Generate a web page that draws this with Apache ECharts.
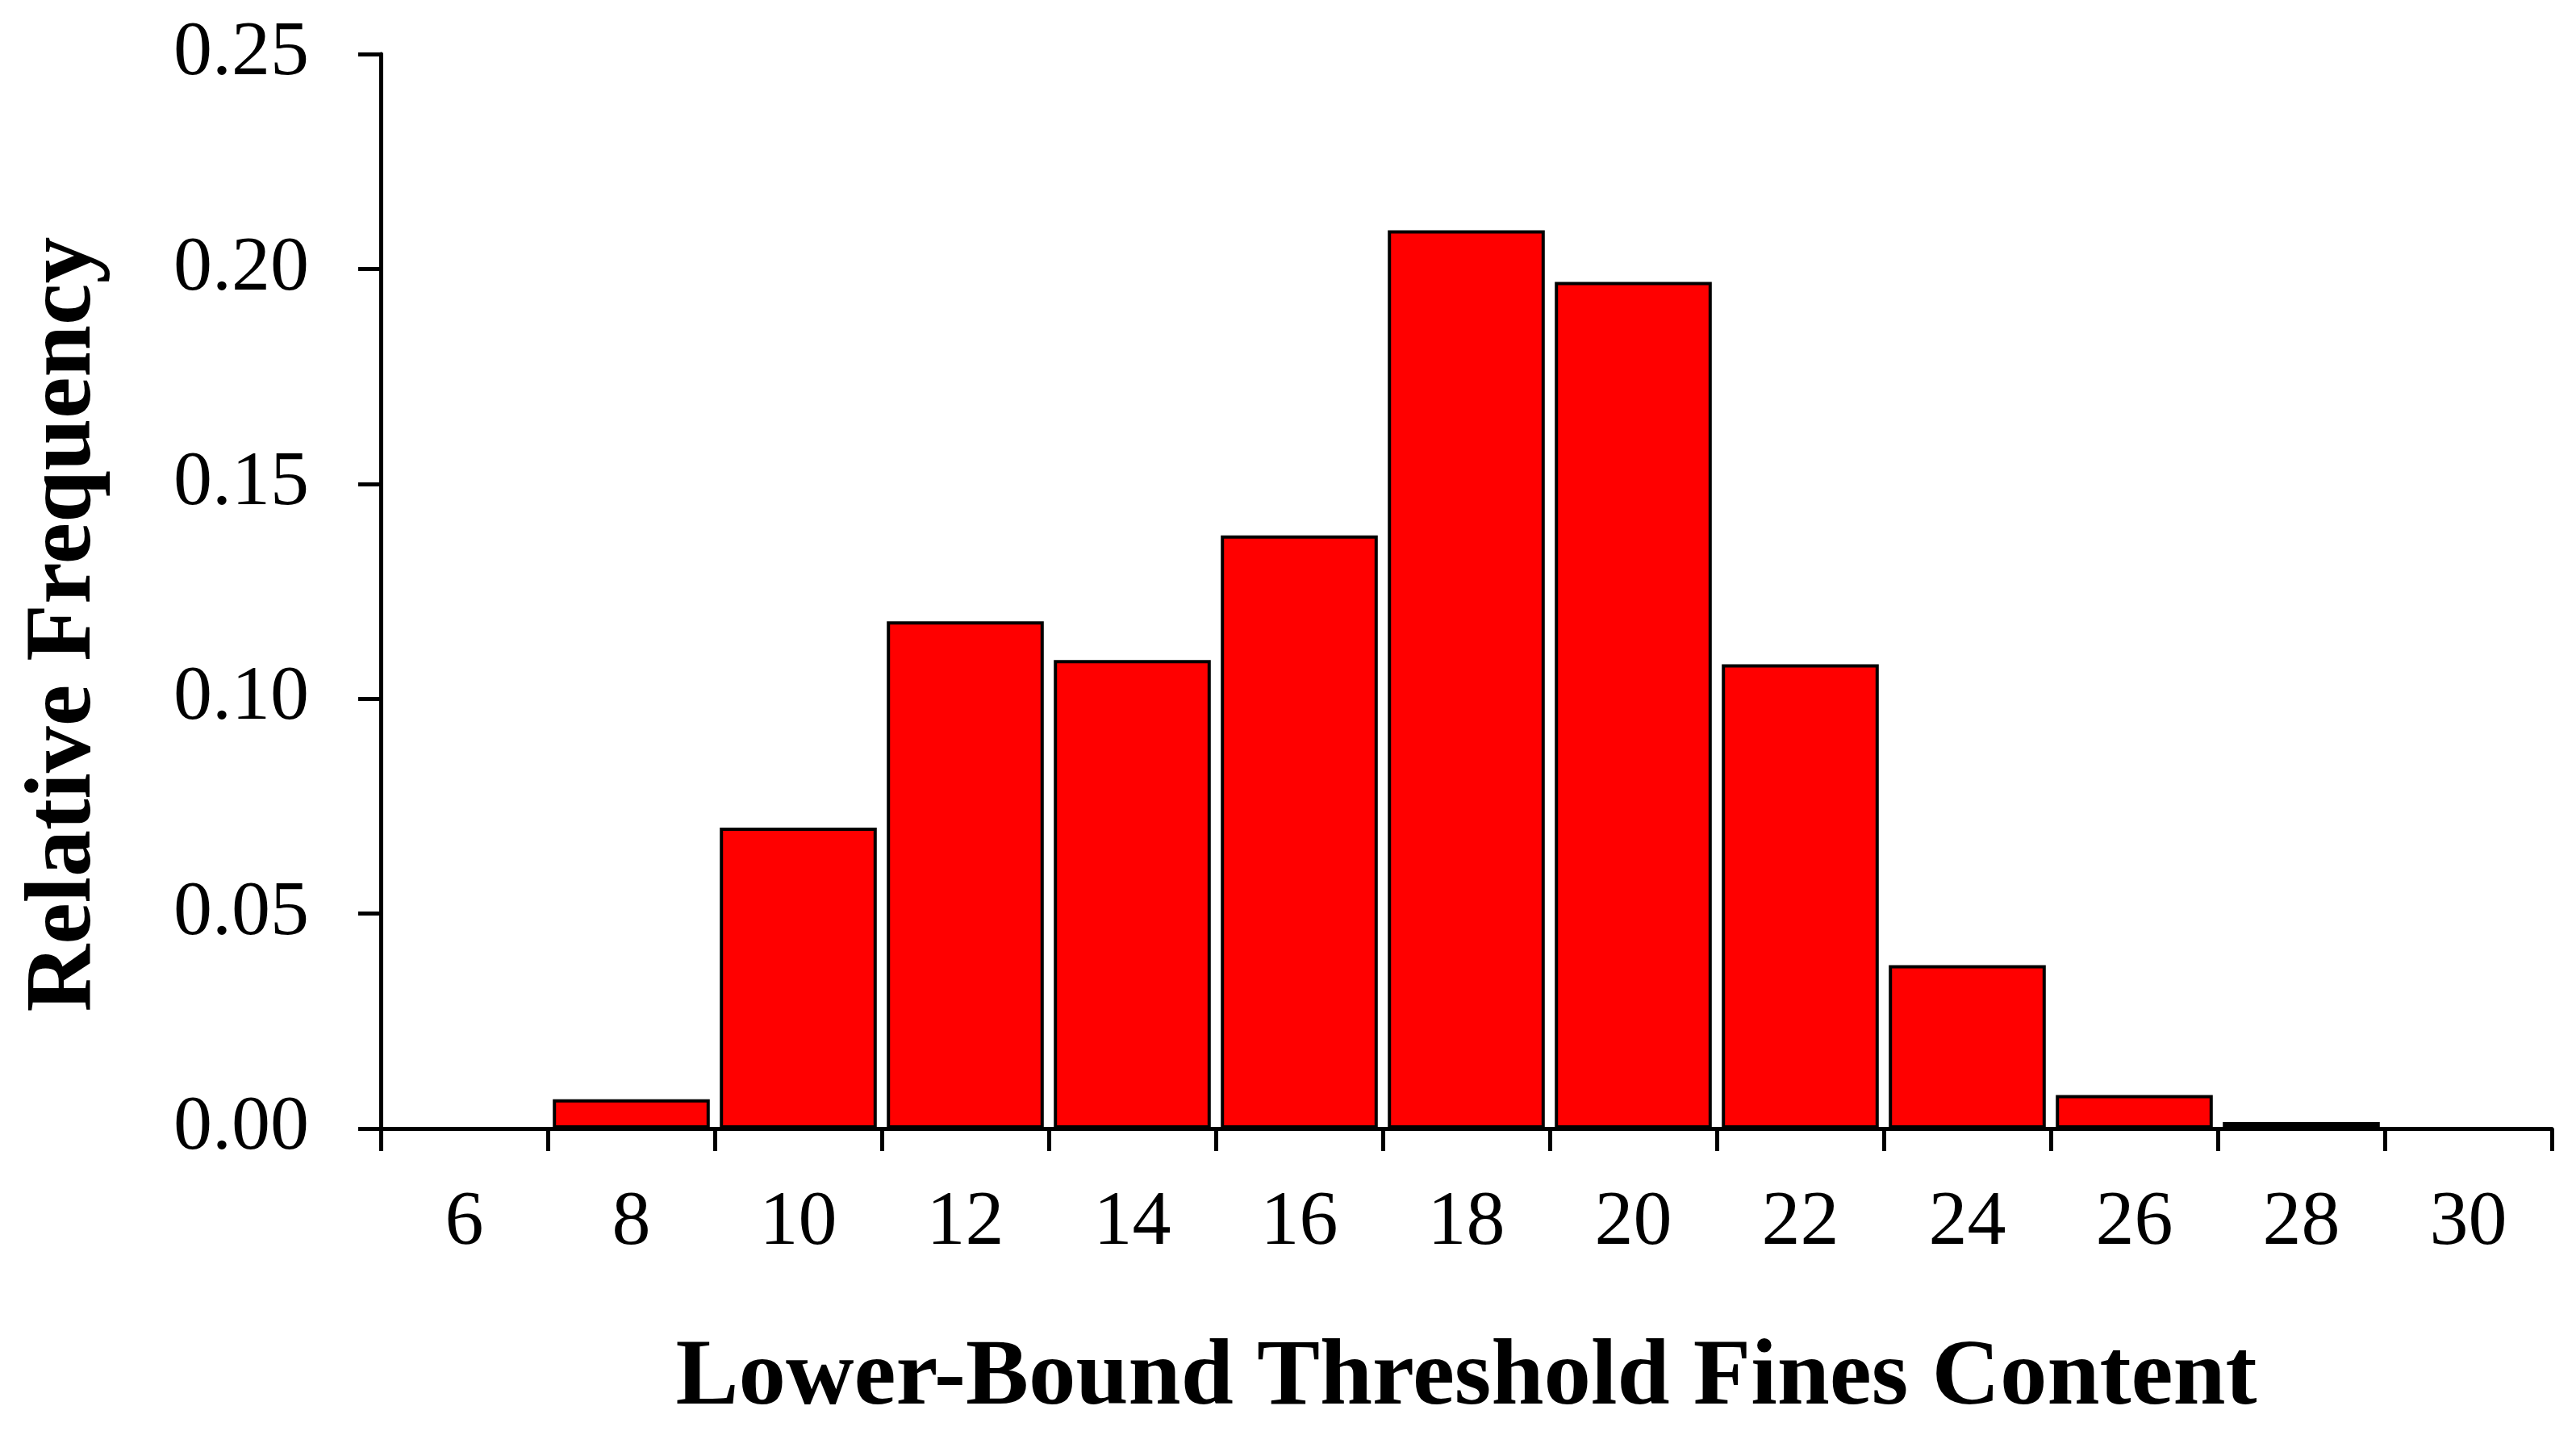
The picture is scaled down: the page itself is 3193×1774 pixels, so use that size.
<!DOCTYPE html>
<html>
<head>
<meta charset="utf-8">
<script src="https://cdn.jsdelivr.net/npm/echarts@6/dist/echarts.min.js"></script>
<style>
html,body{margin:0;padding:0;background:#fff;}
#chart{width:3193px;height:1774px;}
</style>
</head>
<body>
<div id="chart"></div>
<script>
const categories = ['6','8','10','12','14','16','18','20','22','24','26','28','30'];
const frequencies = [0, 0.0068, 0.070, 0.118, 0.109, 0.138, 0.209, 0.197, 0.108, 0.038, 0.0078, 0.0015, 0];
const yTicks = {min: 0, max: 0.25, interval: 0.05};
const xTitle = 'Lower-Bound Threshold Fines Content';
const yTitle = 'Relative Frequency';

const chart = echarts.init(document.getElementById('chart'), null, {renderer: 'canvas'});
const font = '"Liberation Serif", "Times New Roman", serif';
chart.setOption({
  animation: false,
  backgroundColor: '#ffffff',
  grid: {left: 472, right: 30, top: 67, bottom: 375, containLabel: false},
  xAxis: {
    type: 'category',
    data: categories,
    name: xTitle,
    nameLocation: 'middle',
    nameGap: 252,
    nameTextStyle: {fontFamily: font, fontWeight: 'bold', fontSize: 117, color: '#000'},
    axisLine: {lineStyle: {color: '#000', width: 5}},
    axisTick: {show: true, alignWithLabel: false, length: 28, lineStyle: {color: '#000', width: 5}},
    axisLabel: {fontFamily: font, fontSize: 96, color: '#000', margin: 70, interval: 0},
    splitLine: {show: false}
  },
  yAxis: {
    type: 'value',
    min: yTicks.min,
    max: yTicks.max,
    interval: yTicks.interval,
    name: yTitle,
    nameLocation: 'middle',
    nameGap: 333,
    nameRotate: 90,
    nameTextStyle: {fontFamily: font, fontWeight: 'bold', fontSize: 116, color: '#000', padding: [0, 82, 0, 0]},
    axisLine: {show: true, lineStyle: {color: '#000', width: 5}},
    axisTick: {show: true, length: 28, lineStyle: {color: '#000', width: 5}},
    axisLabel: {fontFamily: font, fontSize: 96, color: '#000', margin: 89,
      formatter: v => v.toFixed(2)},
    splitLine: {show: false}
  },
  series: [{
    type: 'bar',
    data: frequencies,
    barCategoryGap: '6%',
    itemStyle: {color: '#ff0000', borderColor: '#000', borderWidth: 4}
  }]
});
</script>
</body>
</html>
